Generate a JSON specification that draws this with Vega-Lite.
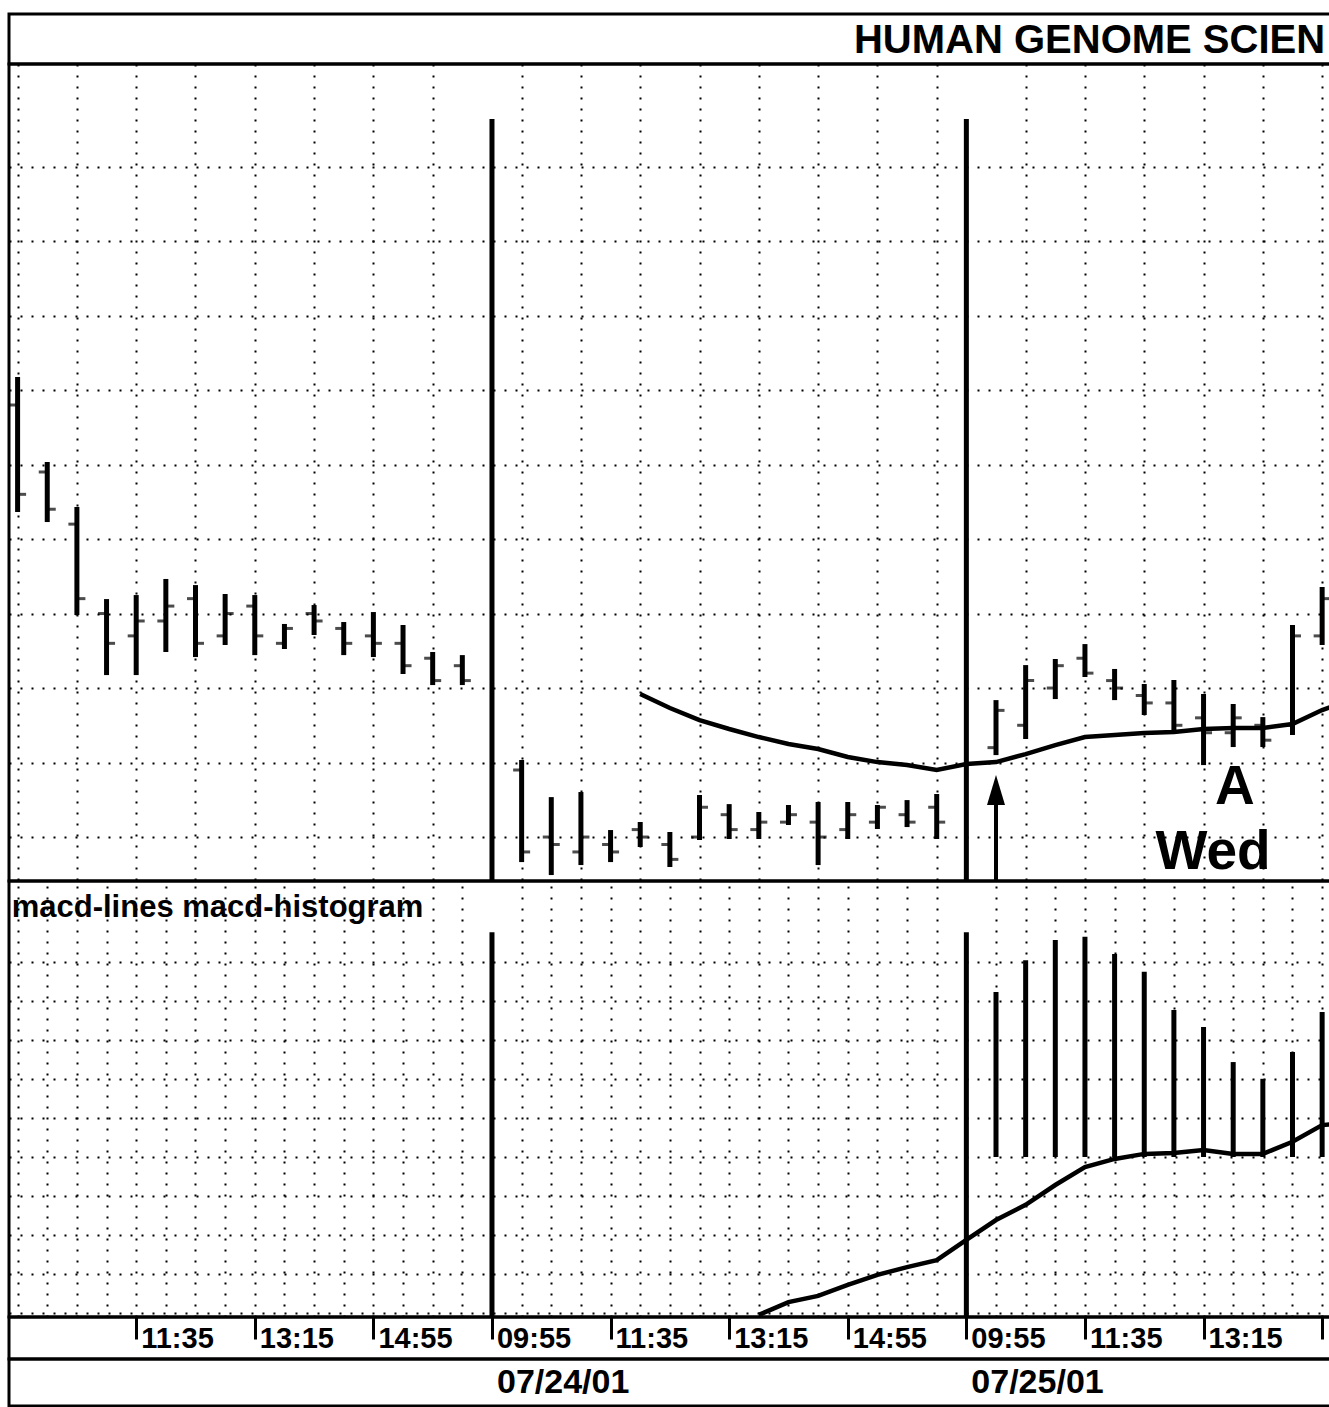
{
  "$schema": "https://vega.github.io/schema/vega-lite/v6.json",
  "background": "white",
  "padding": {"left": 7, "top": 12, "right": 0, "bottom": 0},
  "bounds": "flush",
  "spacing": 0,
  "config": {
    "view": {"stroke": "black", "strokeWidth": 3},
    "font": "Liberation Sans",
    "scale": {"zero": false},
    "axis": {"gridColor": "black", "gridOpacity": 1, "gridDash": [2, 9], "gridWidth": 2, "ticks": false, "labels": false, "domain": false, "title": null}
  },
  "datasets": {
    "ohlc": [
      {"slot": -16, "high": 58.087, "low": 57.181, "open": 57.9, "close": 57.3},
      {"slot": -15, "high": 57.517, "low": 57.114, "open": 57.45, "close": 57.2},
      {"slot": -14, "high": 57.215, "low": 56.49, "open": 57.1, "close": 56.6},
      {"slot": -13, "high": 56.597, "low": 56.087, "open": 56.5, "close": 56.3},
      {"slot": -12, "high": 56.624, "low": 56.087, "open": 56.35, "close": 56.45},
      {"slot": -11, "high": 56.732, "low": 56.242, "open": 56.45, "close": 56.55},
      {"slot": -10, "high": 56.691, "low": 56.208, "open": 56.6, "close": 56.3},
      {"slot": -9, "high": 56.631, "low": 56.289, "open": 56.35, "close": 56.5},
      {"slot": -8, "high": 56.624, "low": 56.221, "open": 56.55, "close": 56.35},
      {"slot": -7, "high": 56.43, "low": 56.262, "open": 56.3, "close": 56.4},
      {"slot": -6, "high": 56.557, "low": 56.356, "open": 56.5, "close": 56.45},
      {"slot": -5, "high": 56.443, "low": 56.221, "open": 56.4, "close": 56.3},
      {"slot": -4, "high": 56.51, "low": 56.208, "open": 56.35, "close": 56.3},
      {"slot": -3, "high": 56.423, "low": 56.094, "open": 56.3, "close": 56.15},
      {"slot": -2, "high": 56.242, "low": 56.02, "open": 56.2, "close": 56.05},
      {"slot": -1, "high": 56.221, "low": 56.02, "open": 56.15, "close": 56.05},
      {"slot": 1, "high": 55.517, "low": 54.832, "open": 55.45, "close": 54.9},
      {"slot": 2, "high": 55.268, "low": 54.745, "open": 55.0, "close": 54.95},
      {"slot": 3, "high": 55.302, "low": 54.812, "open": 54.9, "close": 55.0},
      {"slot": 4, "high": 55.047, "low": 54.832, "open": 54.95, "close": 54.9},
      {"slot": 5, "high": 55.101, "low": 54.933, "open": 55.05, "close": 55.0},
      {"slot": 6, "high": 55.034, "low": 54.799, "open": 54.95, "close": 54.85},
      {"slot": 7, "high": 55.282, "low": 54.98, "open": 55.0, "close": 55.2},
      {"slot": 8, "high": 55.221, "low": 54.987, "open": 55.15, "close": 55.05},
      {"slot": 9, "high": 55.168, "low": 54.987, "open": 55.05, "close": 55.1},
      {"slot": 10, "high": 55.215, "low": 55.081, "open": 55.1, "close": 55.15},
      {"slot": 11, "high": 55.235, "low": 54.812, "open": 55.1, "close": 55.0},
      {"slot": 12, "high": 55.235, "low": 54.987, "open": 55.05, "close": 55.15},
      {"slot": 13, "high": 55.215, "low": 55.054, "open": 55.1, "close": 55.2},
      {"slot": 14, "high": 55.248, "low": 55.067, "open": 55.15, "close": 55.1},
      {"slot": 15, "high": 55.289, "low": 54.987, "open": 55.2, "close": 55.1},
      {"slot": 17, "high": 55.919, "low": 55.55, "open": 55.6, "close": 55.85},
      {"slot": 18, "high": 56.154, "low": 55.658, "open": 55.75, "close": 56.05},
      {"slot": 19, "high": 56.195, "low": 55.926, "open": 56.0, "close": 56.15},
      {"slot": 20, "high": 56.295, "low": 56.074, "open": 56.2, "close": 56.1},
      {"slot": 21, "high": 56.128, "low": 55.919, "open": 56.05, "close": 56.0},
      {"slot": 22, "high": 56.027, "low": 55.819, "open": 55.95, "close": 55.9},
      {"slot": 23, "high": 56.054, "low": 55.705, "open": 55.9, "close": 55.75},
      {"slot": 24, "high": 55.96, "low": 55.483, "open": 55.8, "close": 55.7},
      {"slot": 25, "high": 55.893, "low": 55.604, "open": 55.7, "close": 55.8},
      {"slot": 26, "high": 55.805, "low": 55.604, "open": 55.75, "close": 55.65},
      {"slot": 27, "high": 56.423, "low": 55.685, "open": 55.75, "close": 56.35},
      {"slot": 28, "high": 56.678, "low": 56.289, "open": 56.35, "close": 56.6}
    ],
    "ma": [
      {"slot": 5, "ma": 55.96}, {"slot": 6, "ma": 55.866}, {"slot": 7, "ma": 55.785},
      {"slot": 8, "ma": 55.725}, {"slot": 9, "ma": 55.671}, {"slot": 10, "ma": 55.624},
      {"slot": 11, "ma": 55.591}, {"slot": 12, "ma": 55.537}, {"slot": 13, "ma": 55.503},
      {"slot": 14, "ma": 55.483}, {"slot": 15, "ma": 55.45}, {"slot": 16, "ma": 55.49},
      {"slot": 17, "ma": 55.503}, {"slot": 18, "ma": 55.557}, {"slot": 19, "ma": 55.617},
      {"slot": 20, "ma": 55.671}, {"slot": 21, "ma": 55.685}, {"slot": 22, "ma": 55.698},
      {"slot": 23, "ma": 55.705}, {"slot": 24, "ma": 55.725}, {"slot": 25, "ma": 55.732},
      {"slot": 26, "ma": 55.732}, {"slot": 27, "ma": 55.758}, {"slot": 28, "ma": 55.852},
      {"slot": 28.4, "ma": 55.88}
    ],
    "pdiv": [
      {"slot": 0, "top": 59.819, "bottom": 54.705},
      {"slot": 16, "top": 59.819, "bottom": 54.705}
    ],
    "mdiv": [
      {"slot": 0, "top": 0.578, "bottom": -0.4113},
      {"slot": 16, "top": 0.578, "bottom": -0.4113}
    ],
    "hist": [
      {"slot": 17, "h": 0.424}, {"slot": 18, "h": 0.506}, {"slot": 19, "h": 0.558},
      {"slot": 20, "h": 0.566}, {"slot": 21, "h": 0.522}, {"slot": 22, "h": 0.476},
      {"slot": 23, "h": 0.378}, {"slot": 24, "h": 0.334}, {"slot": 25, "h": 0.244},
      {"slot": 26, "h": 0.201}, {"slot": 27, "h": 0.27}, {"slot": 28, "h": 0.373}
    ],
    "macd": [
      {"slot": 9, "m": -0.406}, {"slot": 10, "m": -0.373}, {"slot": 11, "m": -0.357},
      {"slot": 12, "m": -0.329}, {"slot": 13, "m": -0.303}, {"slot": 14, "m": -0.283},
      {"slot": 15, "m": -0.265}, {"slot": 16, "m": -0.213}, {"slot": 17, "m": -0.162},
      {"slot": 18, "m": -0.123}, {"slot": 19, "m": -0.072}, {"slot": 20, "m": -0.026},
      {"slot": 21, "m": -0.005}, {"slot": 22, "m": 0.008}, {"slot": 23, "m": 0.01},
      {"slot": 24, "m": 0.018}, {"slot": 25, "m": 0.008}, {"slot": 26, "m": 0.008},
      {"slot": 27, "m": 0.039}, {"slot": 28, "m": 0.082}, {"slot": 28.4, "m": 0.085}
    ],
    "times": [
      {"slot": -12, "label": "11:35"}, {"slot": -8, "label": "13:15"}, {"slot": -4, "label": "14:55"},
      {"slot": 0, "label": "09:55"}, {"slot": 4, "label": "11:35"}, {"slot": 8, "label": "13:15"},
      {"slot": 12, "label": "14:55"}, {"slot": 16, "label": "09:55"}, {"slot": 20, "label": "11:35"},
      {"slot": 24, "label": "13:15"}
    ],
    "dates": [
      {"slot": 0, "label": "07/24/01"}, {"slot": 16, "label": "07/25/01"}
    ]
  },
  "vconcat": [
    {
      "width": 1325, "height": 50,
      "data": {"values": [{"slot": 12.21, "label": "HUMAN GENOME SCIEN"}]},
      "mark": {"type": "text", "align": "left", "baseline": "middle", "fontSize": 40, "fontWeight": "bold", "font": "Liberation Sans", "dy": 2},
      "encoding": {
        "x": {"field": "slot", "type": "quantitative", "scale": {"domain": [-16.29, 28.4], "nice": false}, "axis": null},
        "text": {"field": "label"}
      }
    },
    {
      "width": 1325, "height": 817,
      "layer": [
        {
          "data": {"name": "ohlc"},
          "mark": {"type": "rule", "strokeWidth": 5, "color": "black"},
          "encoding": {
            "x": {"field": "slot", "type": "quantitative", "scale": {"domain": [-16.29, 28.4], "nice": false},
                  "axis": {"grid": true, "values": [-16,-15,-14,-13,-12,-11,-10,-9,-8,-7,-6,-5,-4,-3,-2,-1,1,2,3,4,5,6,7,8,9,10,11,12,13,14,15,17,18,19,20,21,22,23,24,25,26,27,28]}},
            "y": {"field": "low", "type": "quantitative", "scale": {"domain": [54.705, 60.188], "nice": false},
                  "axis": {"grid": true, "values": [55, 55.5, 56, 56.5, 57, 57.5, 58, 58.5, 59, 59.5]}},
            "y2": {"field": "high"}
          }
        },
        {
          "data": {"name": "ohlc"},
          "mark": {"type": "tick", "orient": "horizontal", "size": 7, "thickness": 3, "color": "black", "xOffset": -5},
          "encoding": {
            "x": {"field": "slot", "type": "quantitative"},
            "y": {"field": "open", "type": "quantitative"}
          }
        },
        {
          "data": {"name": "ohlc"},
          "mark": {"type": "tick", "orient": "horizontal", "size": 7, "thickness": 3, "color": "black", "xOffset": 5},
          "encoding": {
            "x": {"field": "slot", "type": "quantitative"},
            "y": {"field": "close", "type": "quantitative"}
          }
        },
        {
          "data": {"name": "ma"},
          "mark": {"type": "line", "strokeWidth": 4.5, "color": "black", "clip": true},
          "encoding": {
            "x": {"field": "slot", "type": "quantitative"},
            "y": {"field": "ma", "type": "quantitative"}
          }
        },
        {
          "data": {"name": "pdiv"},
          "mark": {"type": "rule", "strokeWidth": 5, "color": "black"},
          "encoding": {
            "x": {"field": "slot", "type": "quantitative"},
            "y": {"field": "top", "type": "quantitative"},
            "y2": {"field": "bottom"}
          }
        },
        {
          "data": {"values": [{"slot": 17, "from": 54.705, "to": 55.25}]},
          "mark": {"type": "rule", "strokeWidth": 4, "color": "black"},
          "encoding": {
            "x": {"field": "slot", "type": "quantitative"},
            "y": {"field": "from", "type": "quantitative"},
            "y2": {"field": "to"}
          }
        },
        {
          "data": {"values": [{"slot": 17, "tip": 55.315}]},
          "mark": {"type": "point", "shape": "M0,-1L0.6,1L-0.6,1Z", "size": 900, "filled": true, "color": "black", "opacity": 1},
          "encoding": {
            "x": {"field": "slot", "type": "quantitative"},
            "y": {"field": "tip", "type": "quantitative"}
          }
        },
        {
          "data": {"values": [{"slot": 25.06, "p": 55.221, "note": "A"}, {"slot": 24.32, "p": 54.785, "note": "Wed"}]},
          "mark": {"type": "text", "align": "center", "baseline": "alphabetic", "fontSize": 55, "fontWeight": "bold", "font": "Liberation Sans", "color": "black"},
          "encoding": {
            "x": {"field": "slot", "type": "quantitative"},
            "y": {"field": "p", "type": "quantitative"},
            "text": {"field": "note"}
          }
        }
      ]
    },
    {
      "width": 1325, "height": 436,
      "resolve": {"axis": {"x": "independent"}},
      "layer": [
        {
          "data": {"name": "hist"},
          "mark": {"type": "rule", "strokeWidth": 5, "color": "black"},
          "encoding": {
            "x": {"field": "slot", "type": "quantitative", "scale": {"domain": [-16.29, 28.4], "nice": false},
                  "axis": {"orient": "top", "grid": true, "values": [-16,-15,-14,-13,-12,-11,-10,-9,-8,-7,-6,-5,-4,-3,-2,-1,1,2,3,4,5,6,7,8,9,10,11,12,13,14,15,17,18,19,20,21,22,23,24,25,26,27,28]}},
            "y": {"field": "h", "type": "quantitative", "scale": {"domain": [-0.4113, 0.7095], "nice": false},
                  "axis": {"grid": true, "values": [-0.4, -0.3, -0.2, -0.1, 0, 0.1, 0.2, 0.3, 0.4, 0.5]}},
            "y2": {"datum": 0}
          }
        },
        {
          "data": {"name": "macd"},
          "mark": {"type": "line", "strokeWidth": 4.5, "color": "black", "clip": true},
          "encoding": {
            "x": {"field": "slot", "type": "quantitative",
                  "axis": {"orient": "bottom", "grid": false, "ticks": true, "tickSize": 22, "tickWidth": 3, "tickColor": "black", "values": [-12, -8, -4, 0, 4, 8, 12, 16, 20, 24, 28]}},
            "y": {"field": "m", "type": "quantitative"}
          }
        },
        {
          "data": {"name": "mdiv"},
          "mark": {"type": "rule", "strokeWidth": 5, "color": "black"},
          "encoding": {
            "x": {"field": "slot", "type": "quantitative"},
            "y": {"field": "top", "type": "quantitative"},
            "y2": {"field": "bottom"}
          }
        },
        {
          "data": {"values": [{"slot": -16.2, "v": 0.64, "label": "macd-lines macd-histogram"}]},
          "mark": {"type": "text", "align": "left", "baseline": "middle", "fontSize": 31, "fontWeight": "bold", "font": "Liberation Sans", "color": "black"},
          "encoding": {
            "x": {"field": "slot", "type": "quantitative"},
            "y": {"field": "v", "type": "quantitative"},
            "text": {"field": "label"}
          }
        }
      ]
    },
    {
      "width": 1325, "height": 42,
      "data": {"name": "times"},
      "mark": {"type": "text", "align": "left", "baseline": "middle", "dx": 5, "dy": 1, "fontSize": 29, "fontWeight": "bold", "font": "Liberation Sans Narrow, Liberation Sans", "color": "black"},
      "encoding": {
        "x": {"field": "slot", "type": "quantitative", "scale": {"domain": [-16.29, 28.4], "nice": false}, "axis": null},
        "text": {"field": "label"}
      }
    },
    {
      "width": 1325, "height": 47,
      "data": {"name": "dates"},
      "mark": {"type": "text", "align": "left", "baseline": "middle", "dx": 5, "fontSize": 34, "fontWeight": "bold", "font": "Liberation Sans Narrow, Liberation Sans", "color": "black"},
      "encoding": {
        "x": {"field": "slot", "type": "quantitative", "scale": {"domain": [-16.29, 28.4], "nice": false}, "axis": null},
        "text": {"field": "label"}
      }
    }
  ]
}
